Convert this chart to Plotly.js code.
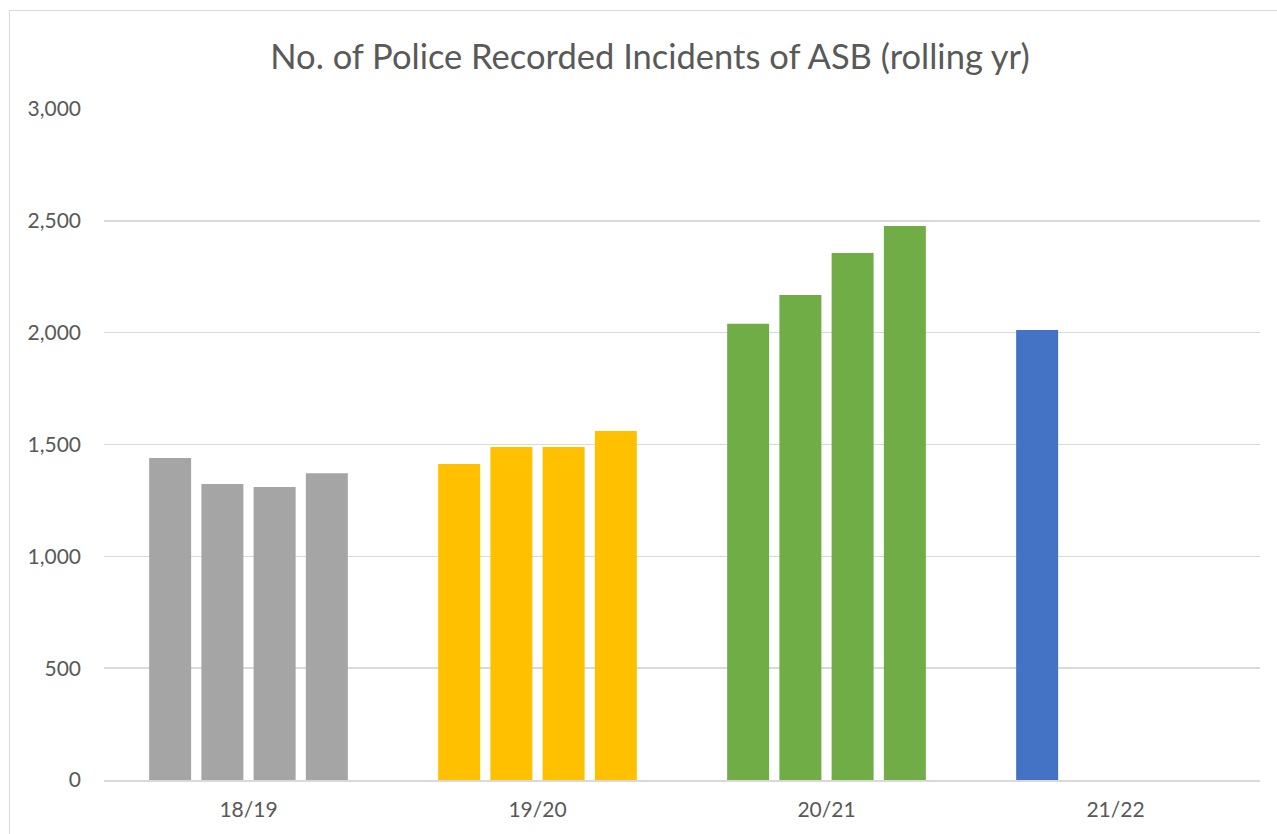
<!DOCTYPE html>
<html>
<head>
<meta charset="utf-8">
<script src="https://cdn.plot.ly/plotly-3.0.1.min.js"></script>
<style>
html,body{margin:0;padding:0;background:#fff;overflow:hidden;}
#wrap{position:relative;width:1277px;height:834px;overflow:hidden;}
#frame{position:absolute;left:9px;top:10px;width:1400px;height:900px;border:1.5px solid #d9d9d9;box-sizing:border-box;pointer-events:none;}
#chart{position:absolute;left:0;top:0;width:1277px;height:834px;}
</style>
</head>
<body>
<div id="wrap">
<div id="chart"></div>
<div id="frame"></div>
</div>
<script>
const categories = ["18/19", "19/20", "20/21", "21/22"];
const q1 = [1440, 1413, 2040, 2012];
const q2 = [1323, 1489, 2168, null];
const q3 = [1310, 1489, 2356, null];
const q4 = [1372, 1560, 2477, null];
const categoryColors = ["#A5A5A5", "#FFC000", "#70AD47", "#4472C4"];
const yTicks = [0, 500, 1000, 1500, 2000, 2500, 3000];
const yTickLabels = ["0", "500", "1,000", "1,500", "2,000", "2,500", "3,000"];

const series = [q1, q2, q3, q4];
const traces = series.map((vals, i) => ({
  type: "bar",
  x: categories,
  y: vals,
  name: "Q" + (i + 1),
  marker: {color: categoryColors},
  hoverinfo: "x+y"
}));

const font = "Lato, 'Open Sans', sans-serif";
const layout = {
  width: 1277, height: 834,
  margin: {l: 104, r: 17, t: 109, b: 54},
  paper_bgcolor: "rgba(0,0,0,0)",
  plot_bgcolor: "rgba(0,0,0,0)",
  barmode: "group",
  bargap: 0.277,
  bargroupgap: 0.196,
  showlegend: false,
  title: {
    text: "No. of Police Recorded Incidents of ASB (rolling yr)",
    font: {family: font, size: 34.5, color: "#595959"},
    x: 0.509, xref: "container", xanchor: "center",
    y: 1 - 57/834, yref: "container", yanchor: "middle"
  },
  xaxis: {
    type: "category",
    showgrid: false,
    showline: true, linecolor: "#d9d9d9", linewidth: 1.5,
    ticks: "", ticklabelstandoff: 10,
    tickfont: {family: font, size: 21, color: "#595959"},
    zeroline: false
  },
  yaxis: {
    range: [0, 3000],
    tickvals: yTicks,
    ticktext: yTickLabels,
    showgrid: true, gridcolor: "#d9d9d9", gridwidth: 1.5,
    zeroline: false, showline: false,
    ticks: "", ticklabelstandoff: 22,
    tickfont: {family: font, size: 21, color: "#595959"}
  }
};

Plotly.newPlot("chart", traces, layout, {displayModeBar: false, staticPlot: true});
</script>
</body>
</html>
